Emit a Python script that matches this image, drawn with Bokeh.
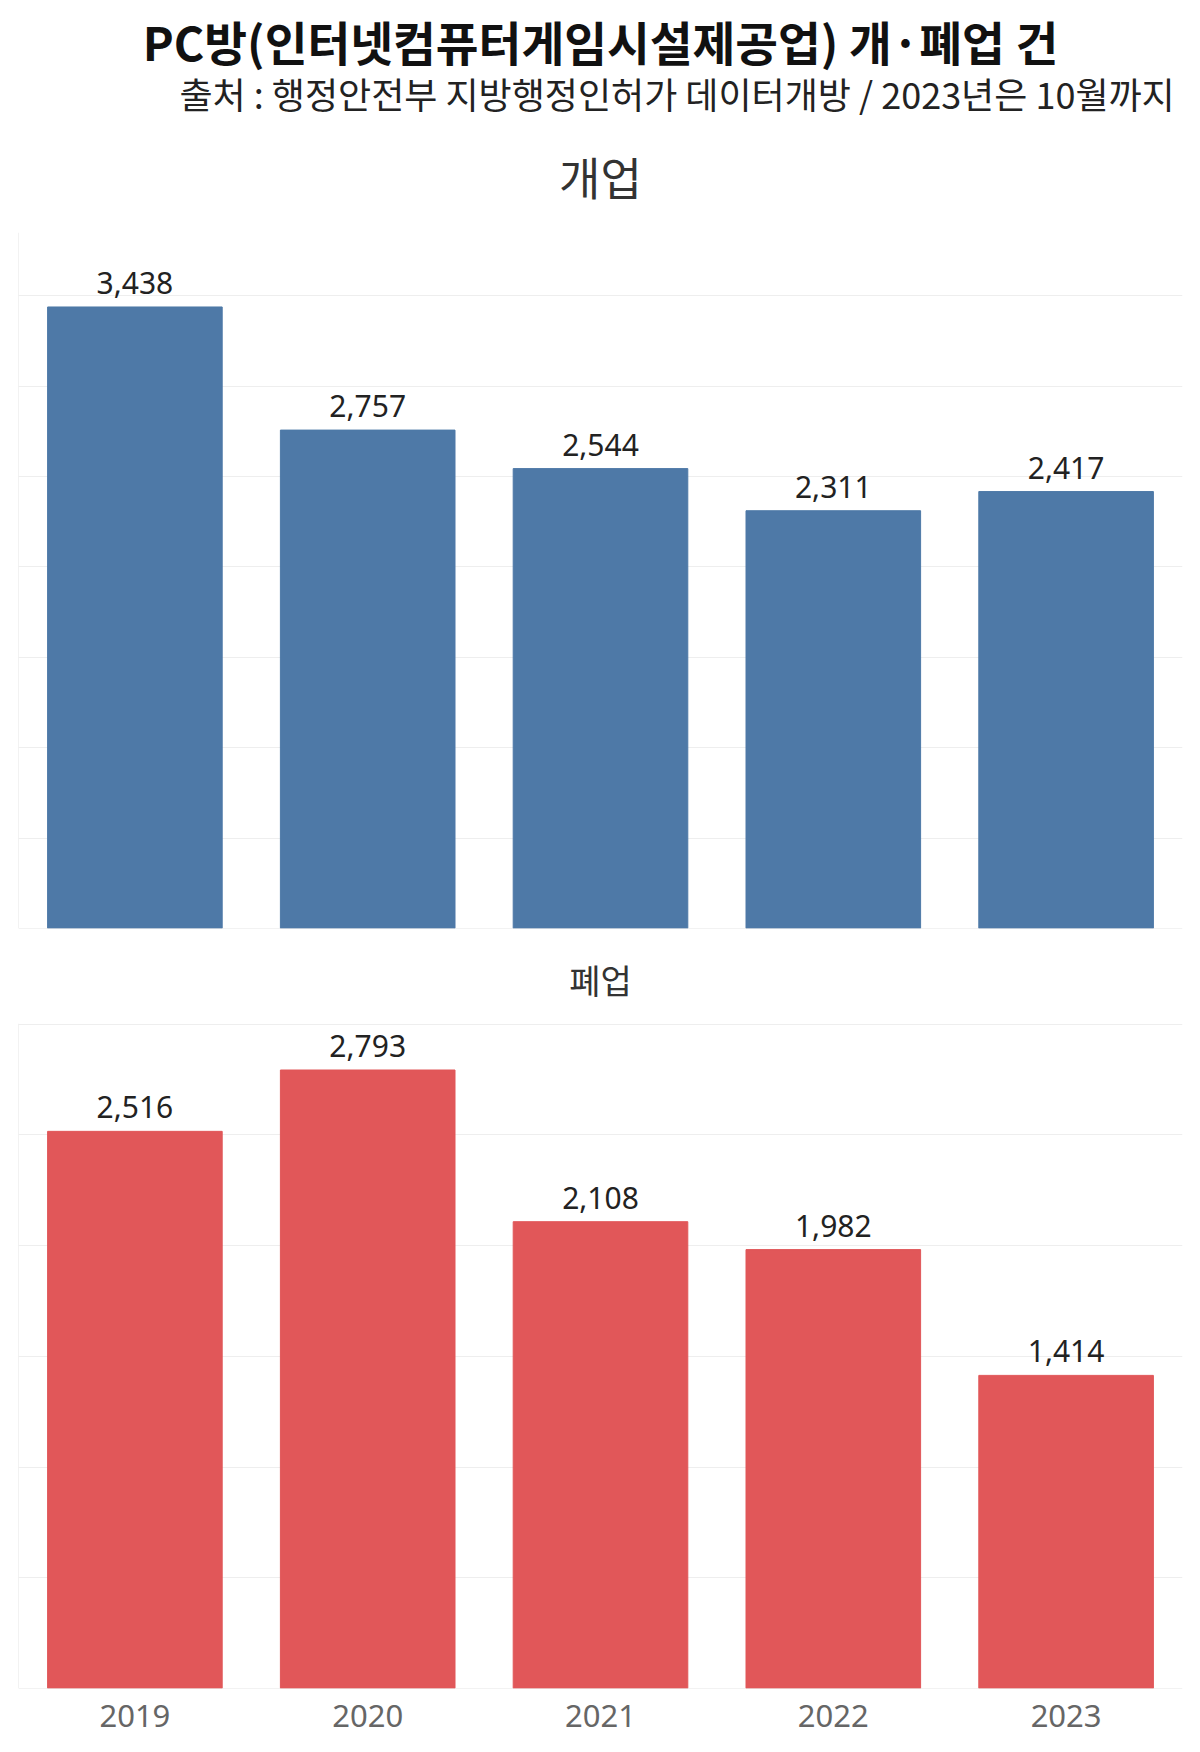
from bokeh.plotting import figure
from bokeh.layouts import column
from bokeh.models import ColumnDataSource, Span, LabelSet, FixedTicker, Range1d
from bokeh.core.properties import value
from bokeh.embed import file_html
from bokeh.resources import INLINE

years = ["2019", "2020", "2021", "2022", "2023"]
openings = [3438, 2757, 2544, 2311, 2417]
closures = [2516, 2793, 2108, 1982, 1414]

title_text = "PC방(인터넷컴퓨터게임시설제공업) 개·폐업 건"
subtitle_text = "출처 : 행정안전부 지방행정인허가 데이터개방 / 2023년은 10월까지"
top_label = "개업"
bottom_label = "폐업"

KR = "Noto Sans CJK KR"
NUM = "Noto Sans"
GRID = "#eeeeee"
LINE = "#e6e6e6"
W = 1200


def blank(height):
    p = figure(width=W, height=height, x_range=Range1d(0, W), y_range=Range1d(height, 0),
               output_backend="svg", toolbar_location=None,
               min_border_left=0, min_border_right=0, min_border_top=0, min_border_bottom=0)
    p.axis.visible = False
    p.grid.visible = False
    p.outline_line_color = None
    return p


def make_chart(values, color, height, bottom_border, ymax, show_x):
    src = ColumnDataSource(dict(x=years, v=values, t=[f"{v:,}" for v in values]))
    p = figure(x_range=years, y_range=(0, ymax), width=W, height=height,
               output_backend="svg", toolbar_location=None,
               min_border_left=18, min_border_right=18,
               min_border_top=0, min_border_bottom=bottom_border)
    p.vbar(x="x", top="v", width=0.75, color=color, source=src)
    p.add_layout(LabelSet(x="x", y="v", text="t", source=src, text_align="center",
                          text_baseline="alphabetic", y_offset=13,
                          text_font=value(NUM), text_font_size="30px", text_color="#222222"))
    p.outline_line_color = None
    p.xgrid.grid_line_color = None
    p.yaxis.visible = False
    p.ygrid.ticker = FixedTicker(ticks=list(range(0, 4001, 500)))
    p.ygrid.grid_line_color = GRID
    p.ygrid.grid_line_width = 1
    p.add_layout(Span(location=0, dimension="width", line_color=LINE, line_width=1))
    p.add_layout(Span(location=0, dimension="height", line_color=LINE, line_width=1))
    if show_x:
        p.xaxis.axis_line_color = None
        p.xaxis.major_tick_line_color = None
        p.xaxis.minor_tick_line_color = None
        p.xaxis.major_label_text_font = NUM
        p.xaxis.major_label_text_font_size = "31px"
        p.xaxis.major_label_text_color = "#666666"
        p.xaxis.major_label_standoff = 10
    else:
        p.xaxis.visible = False
    return p


# header with titles
head = blank(232)
head.text(x=[600], y=[40], text=[title_text], text_align="center", text_baseline="middle",
          text_font=value(KR), text_font_size="46.5px", text_font_style="bold", text_color="#111111")
head.text(x=[1192], y=[92], text=[subtitle_text], text_align="right", text_baseline="middle",
          text_font=value(KR), text_font_size="36px", text_color="#222222")
head.text(x=[600], y=[176], text=[top_label], text_align="center", text_baseline="middle",
          text_font=value(KR), text_font_size="45px", text_color="#333333")

p1 = make_chart(openings, "#4e79a7", 697, 1, 3850, False)

mid = blank(94)
mid.text(x=[600], y=[50], text=[bottom_label], text_align="center", text_baseline="middle",
         text_font=value(KR), text_font_size="34px", text_color="#333333")

p2 = make_chart(closures, "#e15759", 729, 64, 3003, True)

layout = column(head, p1, mid, p2, spacing=0)
open("out.html", "w").write(file_html(layout, INLINE))
